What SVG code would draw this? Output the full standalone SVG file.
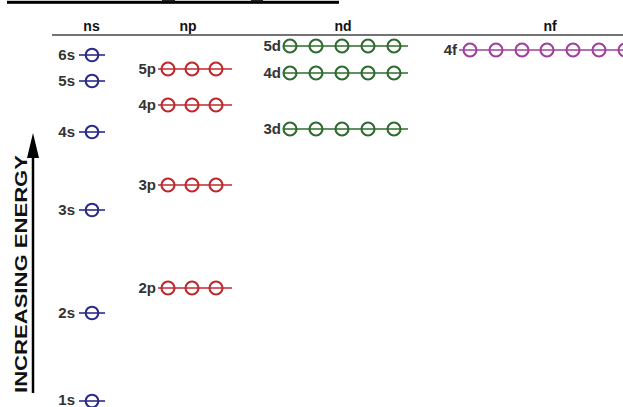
<svg xmlns="http://www.w3.org/2000/svg" width="623" height="407" viewBox="0 0 623 407">
<style>
text{font-family:"Liberation Sans",Arial,sans-serif;font-weight:bold}
.hdr{font-size:14px;fill:#111;text-anchor:middle}
.lbl{font-size:15px;fill:#333;text-anchor:end}
.s line,.s circle{stroke:#2b2b8c}
.p line,.p circle{stroke:#c0282e}
.d line,.d circle{stroke:#2e6b2e}
.f line,.f circle{stroke:#a0409c}
line.lv{stroke-width:1.6}
circle{fill:none;stroke-width:2.1}
</style>
<rect width="623" height="407" fill="#fff"/>
<g id="topbar">
<rect x="7" y="0.8" width="332" height="3" fill="#000"/>
<rect x="162" y="0" width="13" height="1.5" fill="#222"/>
<rect x="251" y="0" width="12" height="1.5" fill="#222"/>
</g>
<g id="header">
<line x1="52" y1="35" x2="623" y2="35" stroke="#444" stroke-width="1.5"/>
<text class="hdr" x="91.5" y="31">ns</text>
<text class="hdr" x="188" y="31">np</text>
<text class="hdr" x="343" y="31">nd</text>
<text class="hdr" x="550" y="31">nf</text>
</g>
<g id="axis">
<line x1="33" y1="152" x2="33" y2="393" stroke="#000" stroke-width="2.5"/>
<polygon points="33,133 27,158 39,158" fill="#000"/>
<text transform="translate(27,274) rotate(-90)" text-anchor="middle" font-size="17" fill="#111" textLength="238" lengthAdjust="spacingAndGlyphs">INCREASING ENERGY</text>
</g>
<g class="s">
<g id="s6"><text class="lbl" x="75" y="60">6s</text><line class="lv" x1="79" y1="55" x2="105" y2="55"/><circle cx="92" cy="55" r="6.3"/></g>
<g id="s5"><text class="lbl" x="75" y="86">5s</text><line class="lv" x1="79" y1="81" x2="105" y2="81"/><circle cx="92" cy="81" r="6.3"/></g>
<g id="s4"><text class="lbl" x="75" y="137">4s</text><line class="lv" x1="79" y1="132" x2="105" y2="132"/><circle cx="92" cy="132" r="6.3"/></g>
<g id="s3"><text class="lbl" x="75" y="215">3s</text><line class="lv" x1="79" y1="210" x2="105" y2="210"/><circle cx="92" cy="210" r="6.3"/></g>
<g id="s2"><text class="lbl" x="75" y="318">2s</text><line class="lv" x1="79" y1="313" x2="105" y2="313"/><circle cx="92" cy="313" r="6.3"/></g>
<g id="s1"><text class="lbl" x="75" y="405">1s</text><line class="lv" x1="79" y1="401" x2="105" y2="401"/><circle cx="92" cy="401" r="6.3"/></g>
</g>
<g class="p">
<g id="p5"><text class="lbl" x="156" y="74">5p</text><line class="lv" x1="158" y1="69" x2="232" y2="69"/><circle cx="168" cy="69" r="6.5"/><circle cx="192" cy="69" r="6.5"/><circle cx="216" cy="69" r="6.5"/></g>
<g id="p4"><text class="lbl" x="156" y="110">4p</text><line class="lv" x1="158" y1="105" x2="232" y2="105"/><circle cx="168" cy="105" r="6.5"/><circle cx="192" cy="105" r="6.5"/><circle cx="216" cy="105" r="6.5"/></g>
<g id="p3"><text class="lbl" x="156" y="190">3p</text><line class="lv" x1="158" y1="185" x2="232" y2="185"/><circle cx="168" cy="185" r="6.5"/><circle cx="192" cy="185" r="6.5"/><circle cx="216" cy="185" r="6.5"/></g>
<g id="p2"><text class="lbl" x="156" y="293">2p</text><line class="lv" x1="158" y1="288" x2="232" y2="288"/><circle cx="168" cy="288" r="6.5"/><circle cx="192" cy="288" r="6.5"/><circle cx="216" cy="288" r="6.5"/></g>
</g>
<g class="d">
<g id="d5"><text class="lbl" x="281" y="51">5d</text><line class="lv" x1="283" y1="46" x2="408" y2="46"/><circle cx="290" cy="46" r="6.5"/><circle cx="316" cy="46" r="6.5"/><circle cx="342" cy="46" r="6.5"/><circle cx="368" cy="46" r="6.5"/><circle cx="394" cy="46" r="6.5"/></g>
<g id="d4"><text class="lbl" x="281" y="78">4d</text><line class="lv" x1="283" y1="73" x2="408" y2="73"/><circle cx="290" cy="73" r="6.5"/><circle cx="316" cy="73" r="6.5"/><circle cx="342" cy="73" r="6.5"/><circle cx="368" cy="73" r="6.5"/><circle cx="394" cy="73" r="6.5"/></g>
<g id="d3"><text class="lbl" x="281" y="134">3d</text><line class="lv" x1="283" y1="129" x2="408" y2="129"/><circle cx="290" cy="129" r="6.5"/><circle cx="316" cy="129" r="6.5"/><circle cx="342" cy="129" r="6.5"/><circle cx="368" cy="129" r="6.5"/><circle cx="394" cy="129" r="6.5"/></g>
</g>
<g class="f">
<g id="f4"><text class="lbl" x="457" y="55">4f</text><line class="lv" x1="459" y1="50" x2="623" y2="50"/><circle cx="470" cy="50" r="6.5"/><circle cx="496" cy="50" r="6.5"/><circle cx="522" cy="50" r="6.5"/><circle cx="547" cy="50" r="6.5"/><circle cx="573" cy="50" r="6.5"/><circle cx="599" cy="50" r="6.5"/><circle cx="625" cy="50" r="6.5"/></g>
</g>
</svg>
